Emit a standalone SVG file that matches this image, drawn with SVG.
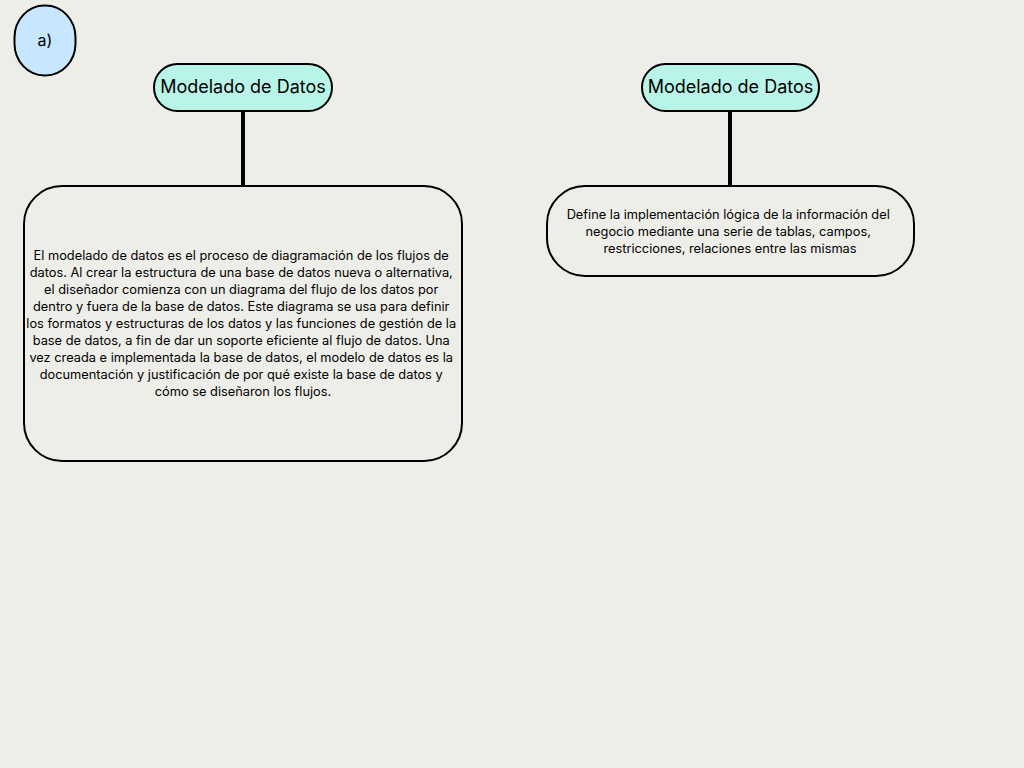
<svg xmlns="http://www.w3.org/2000/svg" width="1024" height="768" viewBox="0 0 1024 768">
<style>
.bg{fill:#EEEEE8}
.box{stroke:#000;stroke-width:2}
.t{font-family:Inter,"Noto Sans",sans-serif;fill:#000;text-anchor:middle}
.title{font-size:18px}
.body{font-size:12.8px}
.conn{stroke:#000;stroke-width:4;fill:none}
</style>
<rect class="bg" x="0" y="0" width="1024" height="768"/>
<g id="label-a">
<rect class="box" x="14.5" y="5.5" width="61" height="70" rx="30" ry="32" fill="#C7E6FF"/>
<text class="t" x="45" y="46" font-size="16">a)</text>
</g>
<g id="connectors">
<line class="conn" x1="243" y1="111" x2="243" y2="186"/>
<line class="conn" x1="730" y1="111" x2="730" y2="186"/>
</g>
<g id="node-title-1">
<rect class="box" x="154" y="64" width="178" height="47" rx="23.5" fill="#B8F5E8"/>
<text class="t title" x="243" y="93">Modelado de Datos</text>
</g>
<g id="node-body-1">
<rect class="box" x="24" y="186" width="438" height="275" rx="38" fill="#EEEEE8"/>
<text class="t body">
<tspan x="243" y="260">El modelado de datos es el proceso de diagramación de los flujos de</tspan>
<tspan x="243" y="277">datos. Al crear la estructura de una base de datos nueva o alternativa,</tspan>
<tspan x="243" y="294">el diseñador comienza con un diagrama del flujo de los datos por</tspan>
<tspan x="243" y="311">dentro y fuera de la base de datos. Este diagrama se usa para definir</tspan>
<tspan x="243" y="328">los formatos y estructuras de los datos y las funciones de gestión de la</tspan>
<tspan x="243" y="345">base de datos, a fin de dar un soporte eficiente al flujo de datos. Una</tspan>
<tspan x="243" y="362">vez creada e implementada la base de datos, el modelo de datos es la</tspan>
<tspan x="243" y="379">documentación y justificación de por qué existe la base de datos y</tspan>
<tspan x="243" y="396">cómo se diseñaron los flujos.</tspan>
</text>
</g>
<g id="node-title-2">
<rect class="box" x="642" y="64" width="177" height="47" rx="23.5" fill="#B8F5E8"/>
<text class="t title" x="730.5" y="93">Modelado de Datos</text>
</g>
<g id="node-body-2">
<rect class="box" x="547" y="186" width="367" height="90" rx="38" fill="#EEEEE8"/>
<text class="t body">
<tspan x="730" y="219">Define la implementación lógica de la información del</tspan>
<tspan x="730" y="236">negocio mediante una serie de tablas, campos,</tspan>
<tspan x="730" y="253">restricciones, relaciones entre las mismas</tspan>
</text>
</g>
</svg>
